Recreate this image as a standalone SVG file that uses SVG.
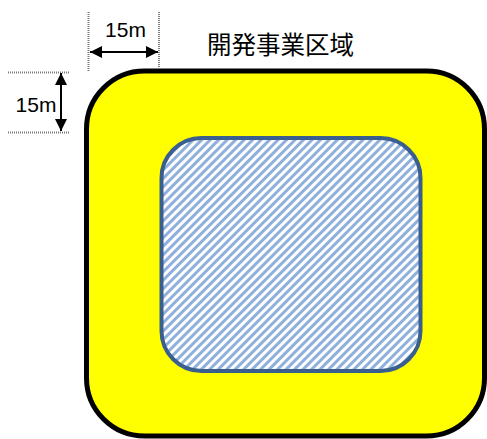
<svg xmlns="http://www.w3.org/2000/svg" width="487" height="439" viewBox="0 0 487 439">
<style>
.t{font-family:"Liberation Sans","Noto Sans CJK JP",sans-serif;fill:#000}
.dot{stroke:#7a7a7a;stroke-width:2;stroke-dasharray:1 1;fill:none}
.dim{stroke:#000;stroke-width:2;fill:none}
</style>
<defs>
<pattern id="hatch" patternUnits="userSpaceOnUse" width="6" height="6" patternTransform="rotate(-45)">
<rect width="6" height="6" fill="#ffffff"/>
<rect width="6" height="3" fill="#8fb0dc"/>
</pattern>
<marker id="ah" viewBox="0 0 10 10" refX="10" refY="5" markerWidth="6" markerHeight="6" orient="auto-start-reverse" markerUnits="strokeWidth">
<path d="M0,0 L10,5 L0,10 z" fill="#000"/>
</marker>
</defs>
<rect width="487" height="439" fill="#fff"/>
<g id="outer">
<rect x="86.5" y="71" width="398" height="365" rx="58" ry="58" fill="#ffff00" stroke="#000" stroke-width="5"/>
</g>
<g id="inner">
<rect x="161.5" y="138" width="259" height="233" rx="40" ry="40" fill="url(#hatch)" stroke="#3a5f8f" stroke-width="4"/>
</g>
<g id="label">
<text class="t" x="280.5" y="54" font-size="24.5" text-anchor="middle">開発事業区域</text>
</g>
<g id="connectors">
<line class="dot" x1="88.5" y1="12" x2="88.5" y2="72"/>
<line class="dot" x1="159" y1="12" x2="159" y2="70"/>
<line class="dim" x1="90" y1="52" x2="158" y2="52" marker-start="url(#ah)" marker-end="url(#ah)"/>
<line class="dot" x1="8" y1="72.5" x2="69" y2="72.5"/>
<line class="dot" x1="8" y1="132.5" x2="69" y2="132.5"/>
<line class="dim" x1="61" y1="73" x2="61" y2="131" marker-start="url(#ah)" marker-end="url(#ah)"/>
</g>
<g id="dims">
<text class="t" x="125.5" y="37" font-size="21" text-anchor="middle">15m</text>
<text class="t" x="36" y="112" font-size="21" text-anchor="middle">15m</text>
</g>
</svg>
